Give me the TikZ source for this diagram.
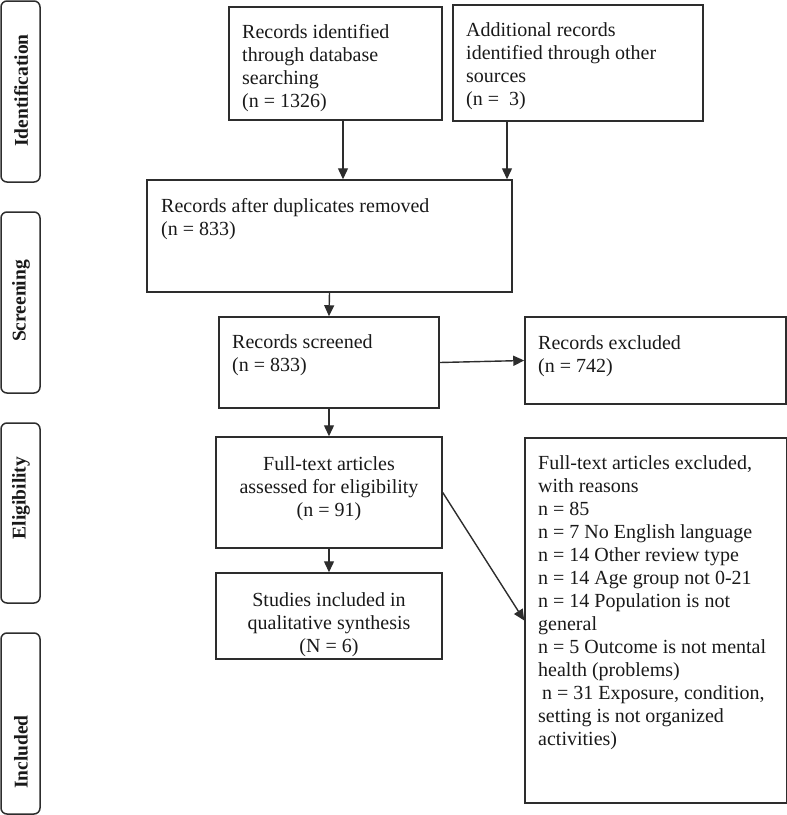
\documentclass[tikz,border=0pt]{standalone}
\usepackage{fontspec}
\setmainfont{Liberation Serif}
\usetikzlibrary{arrows.meta}
\definecolor{linec}{RGB}{45,45,45}
\definecolor{txtc}{RGB}{25,25,25}
\begin{document}
\begin{tikzpicture}[x=1pt,y=-1pt,
  box/.style={draw=linec, line width=1.5pt, rectangle, inner sep=0pt},
  sidebox/.style={draw=linec, line width=1.5pt, rectangle, rounded corners=6pt, inner sep=0pt, minimum width=39pt},
  sidelbl/.style={rotate=90, inner sep=0pt, text=txtc, font=\fontsize{19.5}{22}\selectfont\bfseries},
  txt/.style={anchor=north west, inner sep=0pt, align=left, text=txtc, font=\fontsize{20}{23}\selectfont},
  ctxt/.style={anchor=north, inner sep=0pt, align=center, text=txtc, font=\fontsize{20}{23}\selectfont},
  arr/.style={draw=linec, line width=1.4pt, -{Triangle[length=11pt,width=10pt]}}
]
\useasboundingbox (0,0) rectangle (787,815);

% side phase labels
\node[sidebox, minimum height=181pt] (sid) at (20.5,91.5) {};
\node[sidelbl] (sidt) at (21,90.5) {Identification};
\node[sidebox, minimum height=181pt] (sscr) at (20.5,302.5) {};
\node[sidelbl] (sscrt) at (21,301) {Screening};
\node[sidebox, minimum height=180pt] (self) at (20.5,513) {};
\node[sidelbl] (selft) at (21,498) {Eligibility};
\node[sidebox, minimum height=181pt] (sinc) at (20.5,723.5) {};
\node[sidelbl] (sinct) at (21,752) {Included};

% boxes
\node[box, minimum width=213pt, minimum height=113pt] (b1) at (335.5,63.5) {};
\node[txt] (b1t) at (242,22) {\strut Records identified\\through database\\searching\\(n = 1326)};

\node[box, minimum width=250pt, minimum height=116pt] (b2) at (578,63) {};
\node[txt] (b2t) at (466,20) {\strut Additional records\\identified through other\\sources\\(n =\ \ 3)};

\node[box, minimum width=365pt, minimum height=112pt] (b3) at (329.5,236) {};
\node[txt] (b3t) at (161,196) {\strut Records after duplicates removed\\(n = 833)};

\node[box, minimum width=220pt, minimum height=91pt] (b4) at (329,362.5) {};
\node[txt] (b4t) at (232,332) {\strut Records screened\\(n = 833)};

\node[box, minimum width=261pt, minimum height=87pt] (bx) at (655.5,360.5) {};
\node[txt] (bxt) at (538,333) {\strut Records excluded\\(n = 742)};

\node[box, minimum width=226pt, minimum height=111pt] (b5) at (329,492.5) {};
\node[ctxt] (b5t) at (329,454) {\strut Full-text articles\\assessed for eligibility\\(n = 91)};

\node[box, minimum width=226pt, minimum height=86pt] (b6) at (329,616) {};
\node[ctxt] (b6t) at (329,590) {\strut Studies included in\\qualitative synthesis\\(N = 6)};

\node[box, minimum width=261.5pt, minimum height=365pt] (bx2) at (655.75,620.5) {};
\node[txt] (bx2t) at (538,453) {\strut Full-text articles excluded,\\with reasons\\n = 85\\n = 7 No English language\\n = 14 Other review type\\n = 14 Age group not 0-21\\n = 14 Population is not\\general\\n = 5 Outcome is not mental\\health (problems)\\\hspace{4pt}n = 31 Exposure, condition,\\setting is not organized\\activities)};

% connectors
\coordinate (xa) at (343,0);
\coordinate (xb) at (507,0);
\draw[arr] (b1.south -| xa) -- (b3.north -| xa);
\draw[arr] (b2.south -| xb) -- (b3.north -| xb);
\draw[arr] (b3.south) -- (b4.north);
\draw[arr] (b4.east) -- (bx.west);
\draw[arr] (b4.south) -- (b5.north);
\draw[arr] (b5.south) -- (b6.north);
\draw[arr] (b5.east) -- (bx2.west);
\end{tikzpicture}
\end{document}
